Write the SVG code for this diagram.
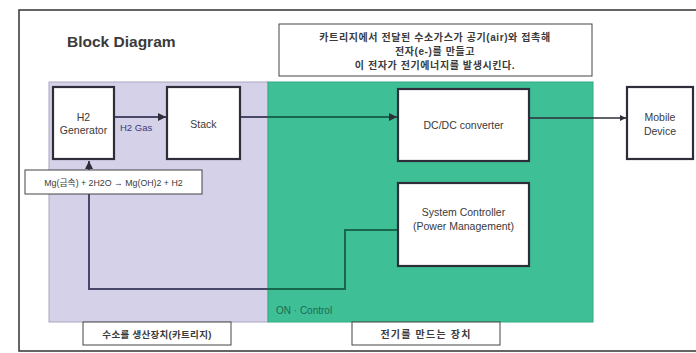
<svg xmlns="http://www.w3.org/2000/svg" width="696" height="353" viewBox="0 0 696 353">
<style>
text{font-family:"Liberation Sans","Noto Sans CJK KR",sans-serif;fill:#3a3a3a}
.node{fill:#fff;stroke:#2e2e3a;stroke-width:2.2}
.nt{font-size:10.5px;text-anchor:middle}
.kt{font-size:10px;text-anchor:middle;font-weight:bold;letter-spacing:0.6px}
.lbl{fill:#fff;stroke:#444;stroke-width:1}
.cp{fill:none;stroke:#4a4868;stroke-width:2}
.cg{fill:none;stroke:#17684a;stroke-width:2}
</style>
<defs>
<marker id="ah" viewBox="0 0 6 6" refX="6" refY="3" markerWidth="4" markerHeight="4" orient="auto"><path d="M0,0L6,3L0,6z" fill="#2e2e3a"/></marker>
</defs>
<rect width="696" height="353" fill="#fff"/>
<path d="M696,10H19V351H696" fill="none" stroke="#333" stroke-width="1.5"/>
<text x="67" y="47" style="font-size:15.5px;font-weight:bold">Block Diagram</text>
<g id="note">
<rect x="279" y="24" width="313" height="52" class="lbl"/>
<text x="435" y="41" class="kt">카트리지에서 전달된 수소가스가 공기(air)와 접촉해</text>
<text x="435" y="55" class="kt">전자(e-)를 만들고</text>
<text x="435" y="69" class="kt">이 전자가 전기에너지를 발생시킨다.</text>
</g>
<g id="regions">
<rect x="49" y="82" width="219" height="240" fill="#d5d1e8" stroke="#a9a6bf" stroke-width="1"/>
<rect x="268" y="82" width="325" height="240" fill="#3fbf96" stroke="#35a883" stroke-width="1"/>
<text x="276" y="314" style="font-size:10px;fill:#1d6b50">ON · Control</text>
</g>
<g id="connectors">
<line x1="114" y1="117" x2="166" y2="117" class="cp" marker-end="url(#ah)"/>
<text x="120" y="131" style="font-size:9.5px;fill:#3a3a7a">H2 Gas</text>
<line x1="240" y1="117" x2="268" y2="117" class="cp"/>
<line x1="268" y1="117" x2="397" y2="117" class="cg" marker-end="url(#ah)"/>
<line x1="529" y1="118" x2="626" y2="118" stroke="#2e2e3a" stroke-width="1.5" marker-end="url(#ah)"/>
<line x1="89" y1="170" x2="89" y2="161" class="cp" marker-end="url(#ah)"/>
<path d="M89,194V289H268" class="cp"/>
<path d="M268,289H345V230H398" class="cg"/>
</g>
<g id="h2gen">
<rect x="53" y="87" width="61" height="72" class="node"/>
<text x="83.5" y="121" class="nt">H2</text>
<text x="83.5" y="134" class="nt">Generator</text>
</g>
<g id="stack">
<rect x="167" y="87" width="73" height="72" class="node"/>
<text x="203.5" y="128" class="nt">Stack</text>
</g>
<g id="equation">
<rect x="25" y="170" width="177" height="24" class="lbl" stroke-width="1.2"/>
<text x="113.5" y="185.5" style="font-size:8.8px;text-anchor:middle">Mg(금속) + 2H2O → Mg(OH)2 + H2</text>
</g>
<g id="dcdc">
<rect x="398" y="89" width="131" height="72" class="node" stroke="#1f4a3a"/>
<text x="463.5" y="129" class="nt">DC/DC converter</text>
</g>
<g id="controller">
<rect x="398" y="183" width="131" height="83" class="node" stroke="#1f4a3a"/>
<text x="463.5" y="216" class="nt">System Controller</text>
<text x="463.5" y="230" class="nt">(Power Management)</text>
</g>
<g id="mobile">
<rect x="627" y="87" width="66" height="72" class="node"/>
<text x="660" y="121" class="nt">Mobile</text>
<text x="660" y="135" class="nt">Device</text>
</g>
<g id="label-left">
<rect x="83" y="322" width="148" height="23" class="lbl"/>
<text x="157" y="337.5" class="kt" style="font-size:9.5px;letter-spacing:0.3px">수소를 생산장치(카트리지)</text>
</g>
<g id="label-right">
<rect x="352" y="322" width="148" height="23" class="lbl"/>
<text x="426" y="337.5" class="kt" style="letter-spacing:1.2px">전기를 만드는 장치</text>
</g>
</svg>
